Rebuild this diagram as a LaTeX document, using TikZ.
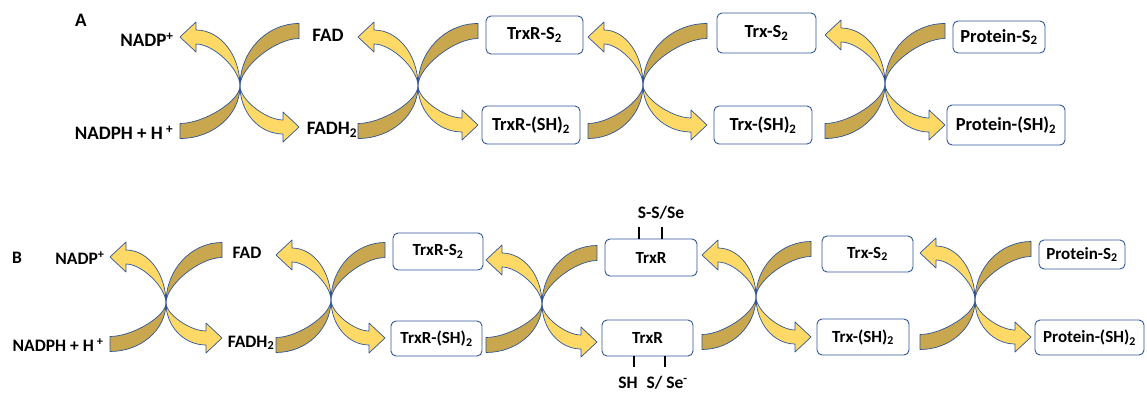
\documentclass[tikz,border=0pt]{standalone}
\usepackage{fontspec}
\setmainfont{Carlito}
\usetikzlibrary{calc}
\definecolor{goldlight}{HTML}{FFD966}
\definecolor{golddark}{HTML}{C9A74E}
\definecolor{edgeblue}{HTML}{2F5597}
\tikzset{
  lightband/.style={fill=goldlight,draw=edgeblue,line width=.7pt,line join=round},
  darkband/.style={fill=golddark,draw=edgeblue,line width=.7pt,line join=round},
  chema/.style={inner sep=0pt,font=\bfseries\fontsize{19}{21}\selectfont},
  chemb/.style={inner sep=0pt,font=\bfseries\fontsize{17.5}{20}\selectfont},
  cboxa/.style={draw=edgeblue,fill=white,rounded corners=5pt,line width=.9pt,inner sep=0pt,font=\bfseries\fontsize{18.4}{20}\selectfont},
  cboxb/.style={cboxa,font=\bfseries\fontsize{17}{19}\selectfont},
}

\begin{document}
\begin{tikzpicture}[x=1pt,y=-1pt]
\useasboundingbox (0,0) rectangle (1147,393);

% the crossed half-rings: centre / left end, top, bottom / right end, top, bottom
\foreach \cx/\cy/\lx/\ltop/\lbot/\rx/\rtop/\rbot in {
  240/86/180/37/131/299/31/127, 418/86/358/37/131/478/31/125,
  643/85/588/37/131/707/31/125, 885/84/825/35/131/945/31/125,
  166/303/110/257/344/222/250/338, 331/300/276/255/345/385/250/338,
  542/304/486/260/345/597/253/342, 756/297/702/255/342/811/249/337,
  975/300/920/253/342/1031/249/337} {
  \pgfmathsetmacro\wleft{\cx-\lx}
  \pgfmathsetmacro\wright{\rx-\cx}
  \pgfmathsetmacro\hlt{\cy-\ltop}
  \pgfmathsetmacro\hlb{\lbot-\cy}
  \pgfmathsetmacro\hrt{\cy-\rtop}
  \pgfmathsetmacro\hrb{\rbot-\cy}
  \filldraw[darkband] (\lx,\lbot+7.5) arc[start angle=90,end angle=0,x radius=\wleft,y radius=\hlb+7.5]
    .. controls (\cx,{\cy+0.4*(\hlb-7.5)}) and ({\lx+0.4*\wleft},\lbot-7.5) .. (\lx,\lbot-7.5) -- cycle;
  \filldraw[darkband] (\rx,\rtop-7.5) arc[start angle=-90,end angle=-180,x radius=\wright,y radius=\hrt+7.5]
    .. controls (\cx,{\cy-0.4*(\hrt-7.5)}) and ({\rx-0.4*\wright},\rtop+7.5) .. (\rx,\rtop+7.5) -- cycle;
  \filldraw[lightband] (\cx,\cy) arc[start angle=0,end angle=-90,x radius=\wleft-16,y radius=\hlt+7]
    -- ++(0,-8) -- (\lx,\ltop) -- (\lx+16,\ltop+15) -- ++(0,-8)
    .. controls ({\lx+16+0.4*(\wleft-16)},\ltop+7) and (\cx,{\cy-0.4*(\hlt-7)}) .. (\cx,\cy) -- cycle;
  \filldraw[lightband] (\cx,\cy) arc[start angle=180,end angle=90,x radius=\wright-16,y radius=\hrb+7]
    -- ++(0,8) -- (\rx,\rbot) -- (\rx-16,\rbot-15) -- ++(0,8)
    .. controls ({\rx-16-0.4*(\wright-16)},\rbot-7) and (\cx,{\cy+0.4*(\hrb-7)}) .. (\cx,\cy) -- cycle;
}

% panel A
\node[chema] (labA) at (81,20) {A};
\node[chema] (nadpa) at (147,40) {NADP\textsuperscript{+}};
\node[chema] (nadpha) at (124,133) {NADPH + H\,\textsuperscript{+}};
\node[chema] (fada) at (328,35) {FAD};
\node[chema] (fadha) at (332,130) {FADH\textsubscript{2}};
\node[cboxa,minimum width=97pt,minimum height=38pt] (trxrsa) at (534.5,35) {TrxR-S\textsubscript{2}};
\node[cboxa,minimum width=98pt,minimum height=38pt] (trxrsha) at (531,125) {TrxR-(SH)\textsubscript{2}};
\node[cboxa,minimum width=99pt,minimum height=40pt] (trxsa) at (766.5,33) {Trx-S\textsubscript{2}};
\node[cboxa,minimum width=98pt,minimum height=38pt] (trxsha) at (763,125) {Trx-(SH)\textsubscript{2}};
\node[cboxa,minimum width=92pt,minimum height=32pt] (protsa) at (999,37) {Protein-S\textsubscript{2}};
\node[cboxa,minimum width=118pt,minimum height=40pt] (protsha) at (1006,125) {Protein-(SH)\textsubscript{2}};

% panel B
\node[chemb] (labB) at (17,258) {B};
\node[chemb] (nadpb) at (80,258) {NADP\textsuperscript{+}};
\node[chemb] (nadphb) at (58,345) {NADPH + H\,\textsuperscript{+}};
\node[chemb] (fadb) at (247,253) {FAD};
\node[chemb] (fadhb) at (251,343) {FADH\textsubscript{2}};
\node[cboxb,minimum width=90pt,minimum height=37pt] (trxrsb) at (438,251.5) {TrxR-S\textsubscript{2}};
\node[cboxb,minimum width=91pt,minimum height=35pt] (trxrshb) at (436.5,338.5) {TrxR-(SH)\textsubscript{2}};
\node[cboxb,minimum width=92pt,minimum height=37pt] (trxrtop) at (651,257.5) {TrxR};
\node[cboxb,minimum width=91pt,minimum height=36pt] (trxrbot) at (647.5,338) {TrxR};
\node[cboxb,minimum width=91pt,minimum height=36pt] (trxsb) at (867.5,254) {Trx-S\textsubscript{2}};
\node[cboxb,minimum width=92pt,minimum height=36pt] (trxshb) at (863,337) {Trx-(SH)\textsubscript{2}};
\node[cboxb,minimum width=86pt,minimum height=29pt] (protsb) at (1082,254.5) {Protein-S\textsubscript{2}};
\node[cboxb,minimum width=109pt,minimum height=35pt] (protshb) at (1089.5,337.5) {Protein-(SH)\textsubscript{2}};

\node[chemb] (ssse) at (661,213) {S-S/Se};
\node[chemb] (shse) at (653,383) {SH\enspace S/ Se\textsuperscript{-}};
\draw[line width=1.2pt] ($(trxrtop.north)+(-12,0)$) -- ++(0,-12);
\draw[line width=1.2pt] ($(trxrtop.north)+(11,0)$) -- ++(0,-12);
\draw[line width=1.2pt] ($(trxrbot.south)+(-13.5,0)$) -- ++(0,11);
\draw[line width=1.2pt] ($(trxrbot.south)+(17.5,0)$) -- ++(0,11);
\end{tikzpicture}
\end{document}
